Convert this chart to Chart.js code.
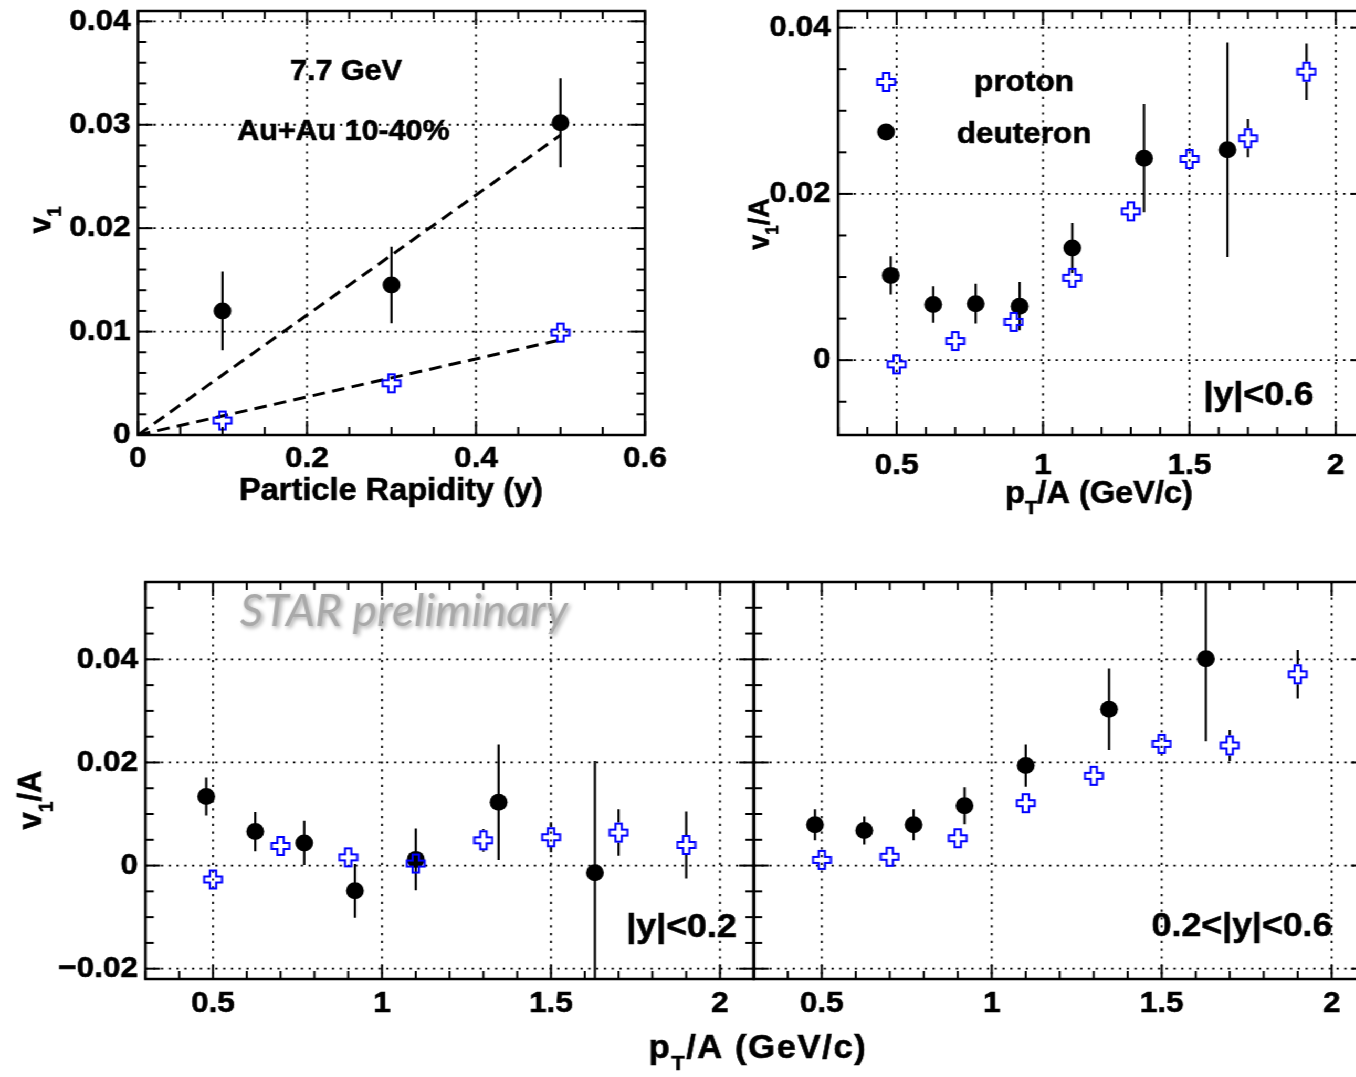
<!DOCTYPE html>
<html>
<head>
<title>v1 of protons and deuterons, Au+Au 7.7 GeV</title>
<style>
  html, body { margin: 0; padding: 0; overflow: hidden; background: #fff; }
  /* the sheet is drawn slightly narrow and widened as one piece */
  #page {
    position: absolute; left: 0; top: 0;
    width: 1340px; height: 1077px;
    transform: scaleX(1.05); transform-origin: 0 0;
  }
  #page canvas { position: absolute; }
</style>
</head>
<body>
<div id="page"></div>

<script src="https://cdn.jsdelivr.net/npm/chart.js@4.4.1/dist/chart.umd.min.js"></script>
<script>
var SX = 1.05;

// ---- v1 vs rapidity (Au+Au 7.7 GeV, 10-40%)
var rapidity = [0.1, 0.3, 0.5];
var rapDeuteron = [0.0120, 0.0145, 0.0302];
var rapDeuteronErr = [0.0038, 0.0037, 0.0043];
var rapProton = [0.0014, 0.0050, 0.0099];
var rapProtonErr = [0.0004, 0.0004, 0.0005];
var fitRap = [0, 0.5];
var fitDeuteron = [0, 0.029];
var fitProton = [0, 0.0092];

// ---- v1/A vs pT/A
var ptProton = [0.5, 0.7, 0.9, 1.1, 1.3, 1.5, 1.7, 1.9];
var ptDeuteron = [0.48, 0.625, 0.77, 0.92, 1.1, 1.345, 1.63];

// |y|<0.6
var allProton = [-0.0005, 0.0023, 0.0046, 0.0099, 0.0179, 0.0242, 0.0267, 0.0347];
var allProtonErr = [0.0007, 0.0007, 0.0009, 0.0008, 0.0009, 0.0013, 0.0023, 0.0034];
var allDeuteron = [0.0102, 0.0067, 0.0068, 0.0065, 0.0135, 0.0243, 0.0253];
var allDeuteronErr = [0.0023, 0.0022, 0.0024, 0.0029, 0.0030, 0.0065, 0.0129];

// |y|<0.2
var midProton = [-0.0027, 0.0038, 0.0016, 0.0004, 0.0049, 0.0055, 0.0064, 0.0040];
var midProtonErr = [0.0008, 0.0008, 0.0010, 0.0010, 0.0022, 0.0029, 0.0045, 0.0065];
var midDeuteron = [0.0134, 0.0066, 0.0044, -0.0049, 0.0012, 0.0123, -0.0014];
var midDeuteronErr = [0.0037, 0.0038, 0.0043, 0.0052, 0.0060, 0.0112, 0.0217];

// 0.2<|y|<0.6
var fwdProton = [0.0011, 0.0017, 0.0053, 0.0121, 0.0174, 0.0236, 0.0233, 0.0371];
var fwdProtonErr = [0.0008, 0.0008, 0.0009, 0.0009, 0.0009, 0.0018, 0.0030, 0.0047];
var fwdDeuteron = [0.0079, 0.0068, 0.0079, 0.0116, 0.0194, 0.0303, 0.0401];
var fwdDeuteronErr = [0.0030, 0.0027, 0.0030, 0.0036, 0.0041, 0.0079, 0.0160];

// ---- axis ticks
var rapXTicks = [0, 0.2, 0.4, 0.6];
var rapXLabels = ['0', '0.2', '0.4', '0.6'];
var rapYTicks = [0, 0.01, 0.02, 0.03, 0.04];
var rapYLabels = ['0', '0.01', '0.02', '0.03', '0.04'];
var ptXTicks = [0.5, 1, 1.5, 2];
var ptXLabels = ['0.5', '1', '1.5', '2'];
var allYTicks = [0, 0.02, 0.04];
var allYLabels = ['0', '0.02', '0.04'];
var splitYTicks = [-0.02, 0, 0.02, 0.04];
var splitYLabels = ['\u22120.02', '0', '0.02', '0.04'];

Chart.defaults.font.family = '"Liberation Sans", Arial, sans-serif';
Chart.defaults.font.size = 30;
Chart.defaults.font.weight = 'bold';
Chart.defaults.color = '#000';

function X(p) { return p / SX; }

// hollow cross marker for protons
function makeOpenCross(color) {
  var c = document.createElement('canvas');
  c.width = 20; c.height = 22;
  var g = c.getContext('2d');
  var cx = 10, cy = 11, a = 3, hx = 8.5, hy = 9;
  g.beginPath();
  g.moveTo(cx - a, cy - hy); g.lineTo(cx + a, cy - hy); g.lineTo(cx + a, cy - a);
  g.lineTo(cx + hx, cy - a); g.lineTo(cx + hx, cy + a); g.lineTo(cx + a, cy + a);
  g.lineTo(cx + a, cy + hy); g.lineTo(cx - a, cy + hy); g.lineTo(cx - a, cy + a);
  g.lineTo(cx - hx, cy + a); g.lineTo(cx - hx, cy - a); g.lineTo(cx - a, cy - a);
  g.closePath();
  g.strokeStyle = color; g.lineWidth = 2; g.stroke();
  return c;
}
var openCross = makeOpenCross('#0000ff');

function pts(xs, ys) {
  return xs.map(function (x, i) { return { x: x, y: ys[i] }; });
}

function deuteronSet(xs, ys, errs) {
  return { label: 'deuteron', data: pts(xs, ys), errors: errs, errGap: 0,
    pointStyle: 'circle', pointRadius: 8.5, pointHoverRadius: 8.5,
    backgroundColor: '#000', borderColor: '#000', borderWidth: 0, order: 1 };
}
function protonSet(xs, ys, errs) {
  return { label: 'proton', data: pts(xs, ys), errors: errs, errGap: 10,
    pointStyle: openCross, pointRadius: 10, pointHoverRadius: 10, order: 0 };
}
function fitSet(ys) {
  return { label: 'fit', data: pts(fitRap, ys), showLine: true, pointRadius: 0,
    borderColor: '#000', borderWidth: 3, borderDash: [12, 7], order: 5 };
}

function axis(min, max, ticks, labels, pad, show) {
  return {
    type: 'linear', min: min, max: max,
    grid: { display: false, drawTicks: false },
    border: { display: false },
    afterBuildTicks: function (s) { s.ticks = ticks.map(function (v) { return { value: v }; }); },
    ticks: {
      display: show !== false, autoSkip: false, maxRotation: 0, padding: pad,
      textStrokeColor: '#000', textStrokeWidth: 0.6,
      callback: function (v) { var k = ticks.indexOf(v); return k < 0 ? '' : labels[k]; }
    }
  };
}

// ---- panels: frame and canvas box in sheet pixels, texts in sheet pixels
// (boxes start 30px above the frame so tick labels near the top never push it down)
var PI2 = Math.PI / 2;
var panels = {
  rap: {
    frame: { l: 138, r: 645, t: 11, b: 435 }, box: { x: 0, y: -19, w: 700, h: 539 },
    xMinor: 0.05, yMinor: 0.002,
    texts: [
      { parts: [['7.7 GeV']], x: 346, y: 80, size: 29 },
      { parts: [['Au+Au 10-40%']], x: 343.5, y: 140, size: 29 },
      { parts: [['Particle Rapidity (y)']], x: 391, y: 500, size: 31 },
      { parts: [['v'], ['1', true]], x: 50, y: 220, size: 30, rotate: -PI2 }
    ]
  },
  ptAll: {
    frame: { l: 838, r: 1365, t: 11, b: 435 }, box: { x: 716, y: -19, w: 672, h: 539 },
    xMinor: 0.1, yMinor: 0.005,
    texts: [
      { parts: [['p'], ['T', true], ['/A (GeV/c)']], x: 1099, y: 503, size: 31 },
      { parts: [['v'], ['1', true], ['/A']], x: 768, y: 224, size: 27, rotate: -PI2 },
      { parts: [['|y|<0.6']], x: 1258.5, y: 405, size: 34 }
    ],
    legend: [
      { set: 0, mx: 886, my: 82, tx: 1024, ty: 91 },
      { set: 1, mx: 886, my: 132, tx: 1024, ty: 143 }
    ]
  },
  ptMid: {
    frame: { l: 145.4, r: 753.8, t: 582, b: 979 }, box: { x: 0, y: 552, w: 900, h: 525 },
    xMinor: 0.1, yMinor: 0.005,
    texts: [
      { parts: [['STAR preliminary']], x: 404, y: 626, size: 40, style: 'italic',
        weight: 'normal', family: 'Lato', color: '#a9a9a9', shadow: true, fitWidth: 328 },
      { parts: [['|y|<0.2']], x: 681.5, y: 937, size: 34 },
      { parts: [['v'], ['1', true], ['/A']], x: 41, y: 800, size: 31, rotate: -PI2 },
      { parts: [['p'], ['T', true], ['/A (GeV/c)']], x: 758, y: 1058, size: 33, spacing: 1.5 }
    ]
  },
  ptFwd: {
    frame: { l: 753.8, r: 1365.7, t: 582, b: 979 }, box: { x: 672, y: 552, w: 716, h: 525 },
    xMinor: 0.1, yMinor: 0.005,
    texts: [
      { parts: [['0.2<|y|<0.6']], x: 1242, y: 936, size: 34 }
    ]
  }
};

function drawRich(ctx, t, ox, oy) {
  var fam = t.family || 'Liberation Sans';
  var size = t.size;
  var font = function (s) {
    return (t.style || 'normal') + ' ' + (t.weight || 'bold') + ' ' + s + 'px "' + fam + '"';
  };
  if (t.fitWidth) {
    ctx.font = font(size);
    size = size * X(t.fitWidth) / ctx.measureText(t.parts[0][0]).width;
  }
  ctx.save();
  ctx.translate(X(t.x) - ox, t.y - oy);
  if (t.rotate) ctx.rotate(t.rotate);
  ctx.letterSpacing = (t.spacing || 0) + 'px';
  ctx.textAlign = 'left';
  ctx.textBaseline = 'alphabetic';
  ctx.fillStyle = t.color || '#000';
  ctx.strokeStyle = t.color || '#000';
  ctx.lineWidth = 0.6;
  if (t.shadow) {
    ctx.shadowColor = 'rgba(0,0,0,0.35)';
    ctx.shadowBlur = 4; ctx.shadowOffsetX = 2; ctx.shadowOffsetY = 2;
  }
  var total = 0;
  var widths = t.parts.map(function (p) {
    ctx.font = font(p[1] ? size * 0.62 : size);
    var w = ctx.measureText(p[0]).width;
    total += w;
    return w;
  });
  var cx = -total / 2;
  t.parts.forEach(function (p, i) {
    ctx.font = font(p[1] ? size * 0.62 : size);
    var dy = p[1] ? size * 0.35 : 0;
    ctx.fillText(p[0], cx, dy);
    if (!t.shadow) ctx.strokeText(p[0], cx, dy);
    cx += widths[i];
  });
  ctx.restore();
}

function seg(ctx, x1, y1, x2, y2) {
  ctx.beginPath(); ctx.moveTo(x1, y1); ctx.lineTo(x2, y2); ctx.stroke();
}

// vertical error bars, kept clear of hollow markers
var errorBars = {
  id: 'errorBars',
  beforeDatasetsDraw: function (chart) {
    var ctx = chart.ctx, a = chart.chartArea, x = chart.scales.x, y = chart.scales.y;
    ctx.save();
    ctx.beginPath(); ctx.rect(a.left, a.top, a.width, a.height); ctx.clip();
    ctx.strokeStyle = '#000'; ctx.lineWidth = 2.2;
    chart.data.datasets.forEach(function (ds) {
      if (!ds.errors) return;
      ds.data.forEach(function (p, i) {
        var px = x.getPixelForValue(p.x);
        var yc = y.getPixelForValue(p.y);
        var y1 = y.getPixelForValue(p.y + ds.errors[i]);
        var y2 = y.getPixelForValue(p.y - ds.errors[i]);
        var gap = ds.errGap;
        if (yc - gap > y1) seg(ctx, px, y1, px, yc - gap);
        if (y2 > yc + gap) seg(ctx, px, yc + gap, px, y2);
      });
    });
    ctx.restore();
  }
};

// dotted grid, inward ticks on all four sides, frame, labels
var rootFrame = {
  id: 'rootFrame',
  beforeDatasetsDraw: function (chart) {
    var ctx = chart.ctx, a = chart.chartArea, x = chart.scales.x, y = chart.scales.y;
    ctx.save();
    ctx.strokeStyle = '#000'; ctx.lineWidth = 1.8;
    ctx.setLineDash([2.2, 5.6]);
    x.ticks.forEach(function (t) {
      var p = x.getPixelForValue(t.value);
      if (p > a.left + 2 && p < a.right - 2) seg(ctx, p, a.top, p, a.bottom);
    });
    ctx.setLineDash([2.2, 5.2]);
    y.ticks.forEach(function (t) {
      var p = y.getPixelForValue(t.value);
      if (p > a.top + 2 && p < a.bottom - 2) seg(ctx, a.left, p, a.right, p);
    });
    ctx.restore();
  },
  afterDatasetsDraw: function (chart) {
    var d = panels[chart.canvas.id];
    var ox = X(d.box.x), oy = d.box.y;
    var ctx = chart.ctx, a = chart.chartArea, x = chart.scales.x, y = chart.scales.y;
    ctx.save();
    ctx.strokeStyle = '#000'; ctx.lineWidth = 2;
    var isMajor = function (scale, v, step) {
      return scale.ticks.some(function (t) { return Math.abs(t.value - v) < step / 10; });
    };
    var k, v, len;
    for (k = Math.ceil(x.min / d.xMinor - 1e-6); k * d.xMinor <= x.max + 1e-9; k++) {
      v = k * d.xMinor;
      len = isMajor(x, v, d.xMinor) ? 14 : 8;
      var px = x.getPixelForValue(v);
      seg(ctx, px, a.bottom, px, a.bottom - len);
      seg(ctx, px, a.top, px, a.top + len);
    }
    for (k = Math.ceil(y.min / d.yMinor - 1e-6); k * d.yMinor <= y.max + 1e-9; k++) {
      v = k * d.yMinor;
      len = isMajor(y, v, d.yMinor) ? 14 : 8;
      var py = y.getPixelForValue(v);
      seg(ctx, a.left, py, a.left + len, py);
      seg(ctx, a.right, py, a.right - len, py);
    }
    ctx.lineWidth = 2.5;
    ctx.strokeRect(a.left, a.top, a.width, a.height);
    ctx.restore();

    d.texts.forEach(function (t) { drawRich(ctx, t, ox, oy); });

    (d.legend || []).forEach(function (e) {
      var ds = chart.data.datasets[e.set];
      var mx = X(e.mx) - ox, my = e.my - oy;
      ctx.save();
      if (ds.pointStyle === 'circle') {
        ctx.fillStyle = '#000';
        ctx.beginPath(); ctx.arc(mx, my, ds.pointRadius, 0, 2 * Math.PI); ctx.fill();
      } else {
        ctx.drawImage(ds.pointStyle, mx - ds.pointStyle.width / 2, my - ds.pointStyle.height / 2);
      }
      ctx.restore();
      drawRich(ctx, { parts: [[ds.label]], x: e.tx, y: e.ty, size: 30 }, ox, oy);
    });
  }
};

function panel(id, scales, datasets) {
  var d = panels[id];
  var f = d.frame, b = d.box;
  var left = X(b.x), width = Math.round(X(b.w));
  var cv = document.createElement('canvas');
  cv.id = id;
  cv.width = width; cv.height = b.h;
  cv.style.left = left + 'px';
  cv.style.top = b.y + 'px';
  document.getElementById('page').appendChild(cv);

  var yw = X(f.l) - left;
  var xh = b.y + b.h - f.b;
  scales.x.afterFit = function (s) { s.height = xh; };
  scales.y.afterFit = function (s) { s.width = yw; };

  return new Chart(cv, {
    type: 'scatter',
    data: { datasets: datasets },
    options: {
      responsive: false, animation: false, devicePixelRatio: 1, events: [],
      layout: {
        padding: { top: f.t - b.y, right: left + width - X(f.r), left: 0, bottom: 0 }
      },
      scales: scales,
      plugins: { legend: { display: false }, tooltip: { enabled: false } }
    },
    plugins: [errorBars, rootFrame]
  });
}

panel('rap', {
  x: axis(0, 0.6, rapXTicks, rapXLabels, 6),
  y: axis(0, 0.041, rapYTicks, rapYLabels, 7)
}, [
  protonSet(rapidity, rapProton, rapProtonErr),
  deuteronSet(rapidity, rapDeuteron, rapDeuteronErr),
  fitSet(fitDeuteron),
  fitSet(fitProton)
]);

panel('ptAll', {
  x: axis(0.3, 2.1, ptXTicks, ptXLabels, 13),
  y: axis(-0.009, 0.042, allYTicks, allYLabels, 7)
}, [
  protonSet(ptProton, allProton, allProtonErr),
  deuteronSet(ptDeuteron, allDeuteron, allDeuteronErr)
]);

panel('ptMid', {
  x: axis(0.3, 2.1, ptXTicks, ptXLabels, 7),
  y: axis(-0.022, 0.055, splitYTicks, splitYLabels, 7)
}, [
  protonSet(ptProton, midProton, midProtonErr),
  deuteronSet(ptDeuteron, midDeuteron, midDeuteronErr)
]);

panel('ptFwd', {
  x: axis(0.3, 2.1, ptXTicks, ptXLabels, 7),
  y: axis(-0.022, 0.055, splitYTicks, splitYLabels, 7, false)
}, [
  protonSet(ptProton, fwdProton, fwdProtonErr),
  deuteronSet(ptDeuteron, fwdDeuteron, fwdDeuteronErr)
]);
</script>
</body>
</html>
